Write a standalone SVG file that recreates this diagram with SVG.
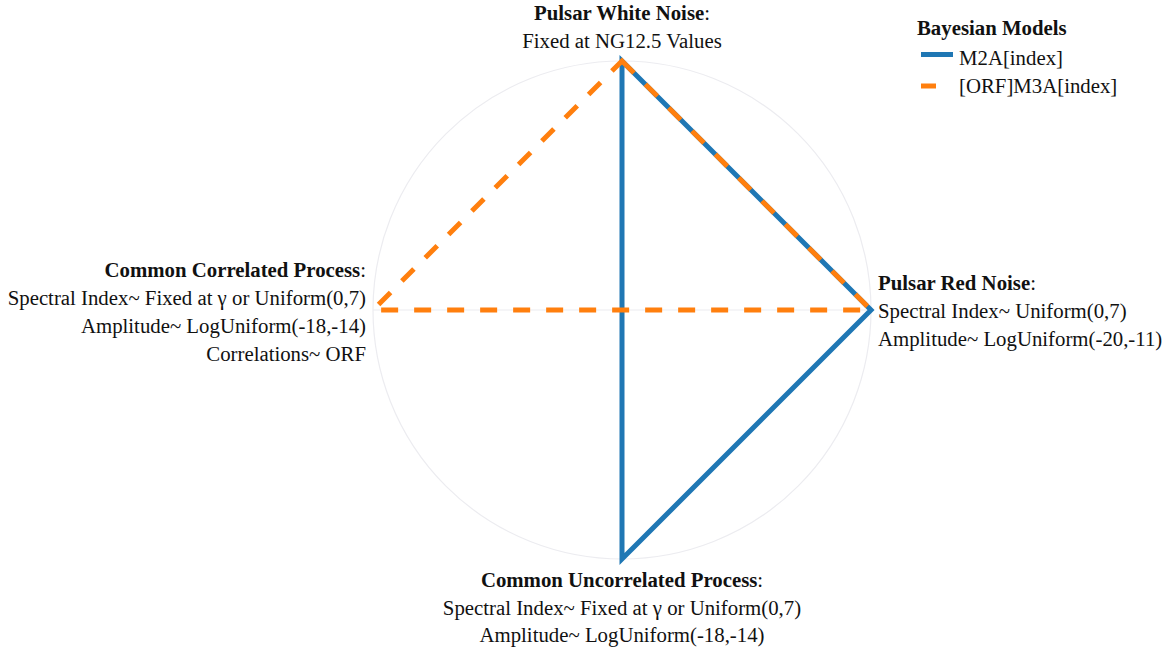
<svg xmlns="http://www.w3.org/2000/svg" width="1166" height="648" viewBox="0 0 1166 648">
<style>
text{font-family:"Liberation Serif","Times New Roman",serif;font-size:20.8px;fill:#111}
.b{font-weight:bold}
.grid{fill:none;stroke:#ececf0;stroke-width:1.2}
.m2{fill:none;stroke:#1f77b4;stroke-width:5;stroke-linejoin:miter}
.m3{fill:none;stroke:#ff7f0e;stroke-width:5;stroke-dasharray:17 16}
</style>
<rect width="1166" height="648" fill="#fff"/>
<g id="grid">
<circle class="grid" cx="622" cy="310" r="249"/>
<line class="grid" x1="373" y1="310" x2="871" y2="310"/>
<line class="grid" x1="622" y1="61" x2="622" y2="559"/>
</g>
<g id="connectors">
<path class="m2" d="M622,61 L871,310 L622,559 L622,310 Z"/>
<path class="m3" d="M622,61 L871,310 L622,310 L373,310 Z"/>
</g>
<g id="node-white-noise">
<text x="622" y="20" text-anchor="middle"><tspan class="b">Pulsar White Noise</tspan>:</text>
<text x="622" y="48" text-anchor="middle">Fixed at NG12.5 Values</text>
</g>
<g id="node-red-noise">
<text x="878" y="290"><tspan class="b">Pulsar Red Noise</tspan>:</text>
<text x="878" y="318">Spectral Index~ Uniform(0,7)</text>
<text x="878" y="346">Amplitude~ LogUniform(-20,-11)</text>
</g>
<g id="node-uncorrelated">
<text x="622" y="587" text-anchor="middle"><tspan class="b">Common Uncorrelated Process</tspan>:</text>
<text x="622" y="614.5" text-anchor="middle">Spectral Index~ Fixed at γ or Uniform(0,7)</text>
<text x="622" y="642" text-anchor="middle">Amplitude~ LogUniform(-18,-14)</text>
</g>
<g id="node-correlated">
<text x="366" y="277" text-anchor="end"><tspan class="b">Common Correlated Process</tspan>:</text>
<text x="366" y="305" text-anchor="end">Spectral Index~ Fixed at γ or Uniform(0,7)</text>
<text x="366" y="333" text-anchor="end">Amplitude~ LogUniform(-18,-14)</text>
<text x="366" y="361" text-anchor="end">Correlations~ ORF</text>
</g>
<g id="legend">
<text x="917" y="35" class="b">Bayesian Models</text>
<line class="m2" x1="921" y1="54.5" x2="953" y2="54.5"/>
<text x="959" y="65">M2A[index]</text>
<line class="m3" x1="921" y1="86" x2="953" y2="86" style="stroke-dasharray:15 40"/>
<text x="959" y="93">[ORF]M3A[index]</text>
</g>
</svg>
